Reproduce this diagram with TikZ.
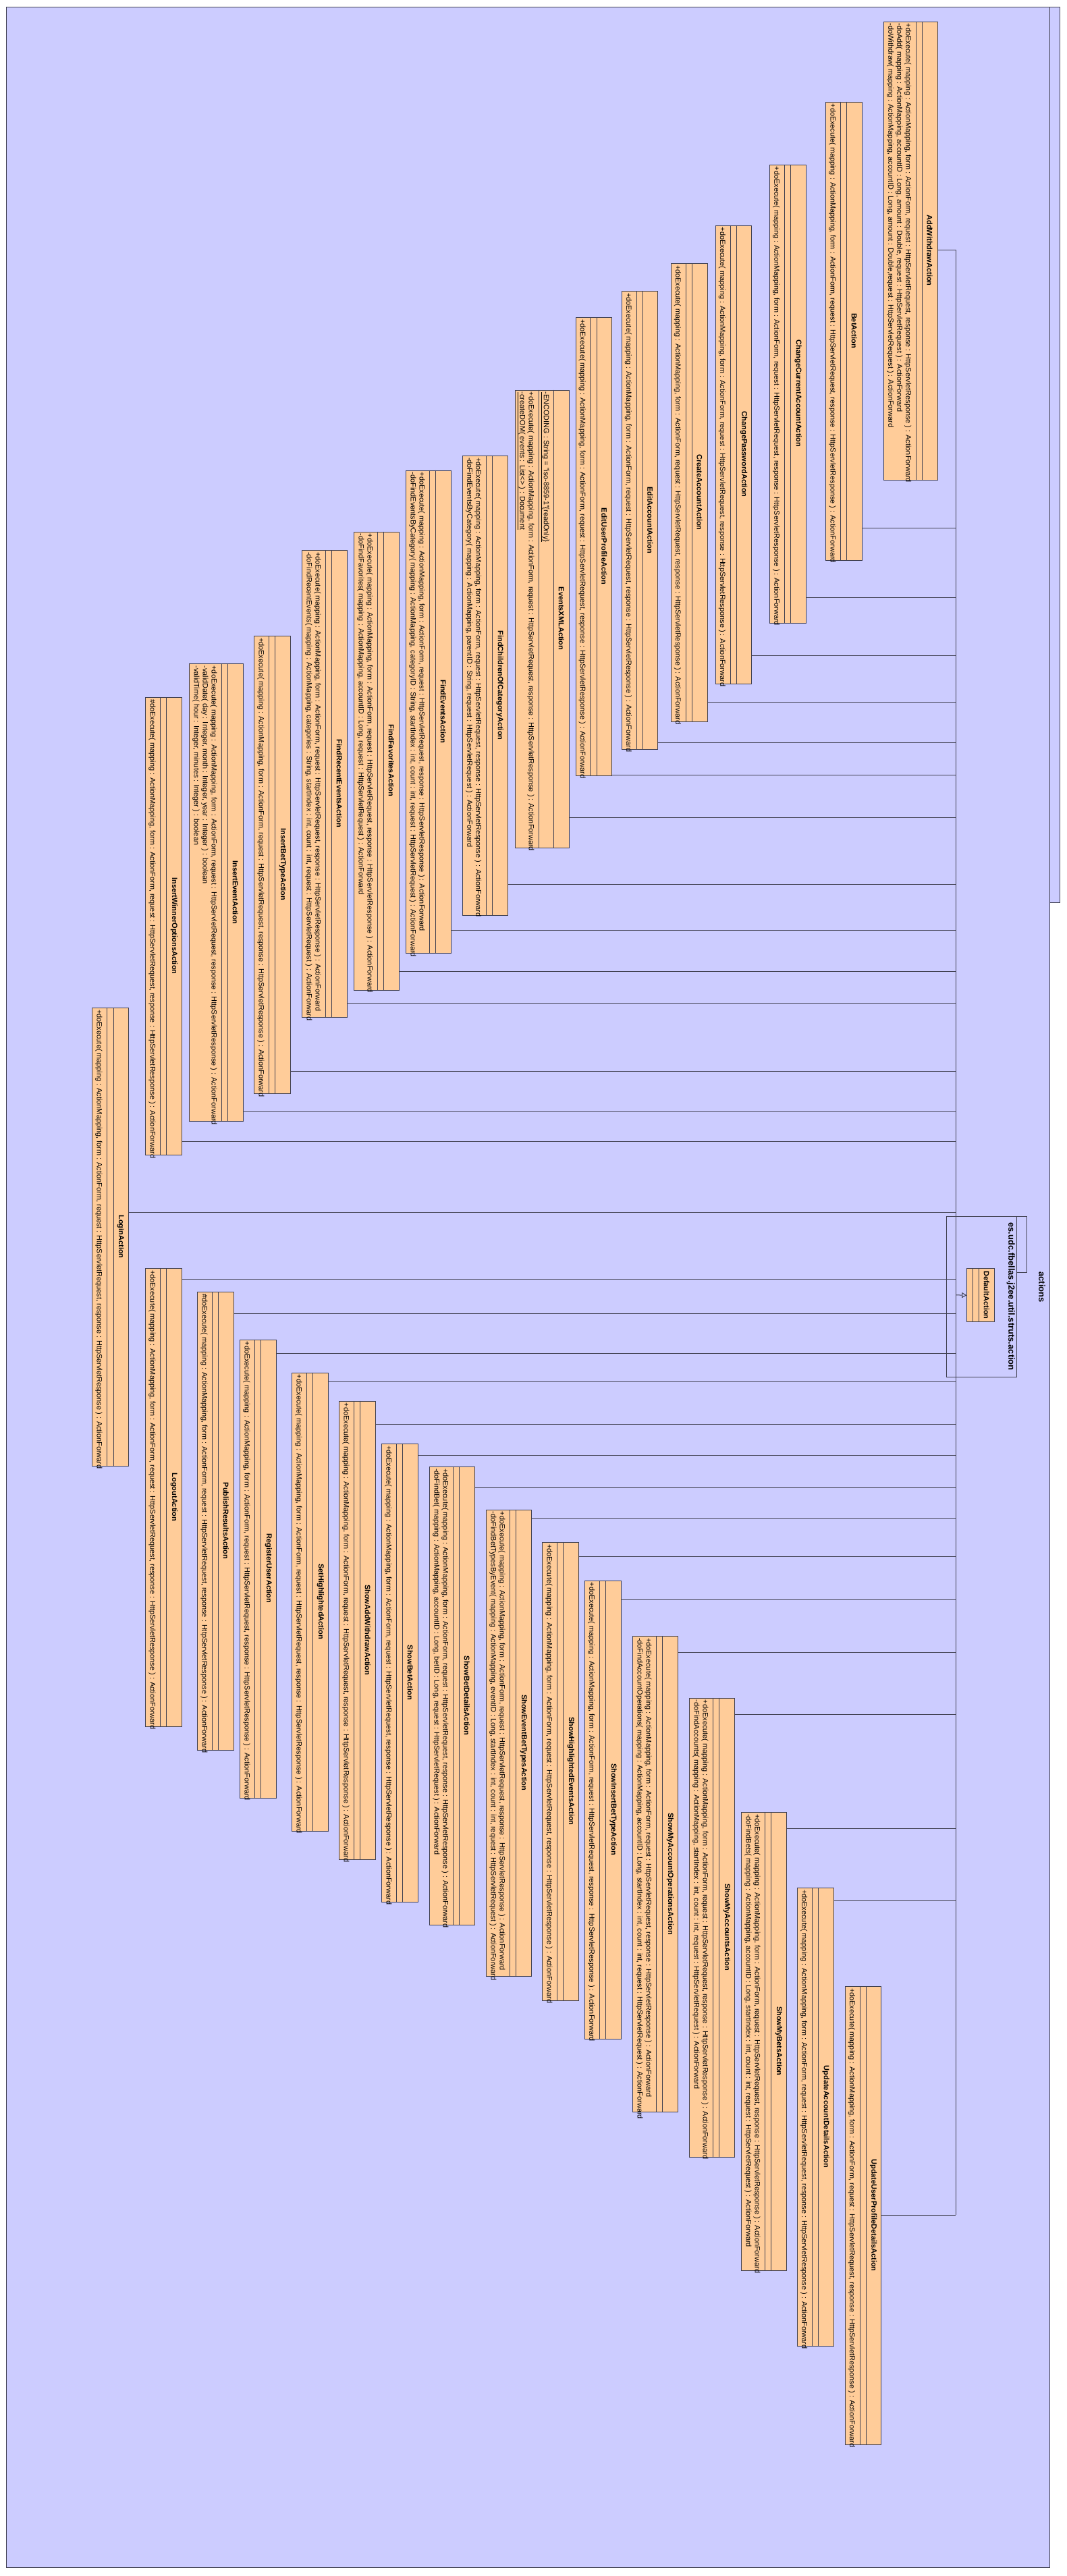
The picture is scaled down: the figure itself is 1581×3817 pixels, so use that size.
\documentclass[tikz,border=0pt]{standalone}
\usepackage{fontspec}
\setmainfont{Liberation Sans}
\usetikzlibrary{arrows.meta,calc}
\pgfdeclarelayer{pkg}
\pgfdeclarelayer{lines}
\pgfsetlayers{pkg,lines,main}
\definecolor{bgblue}{RGB}{204,204,255}
\definecolor{clsfill}{RGB}{255,204,153}
\definecolor{edgecol}{RGB}{64,64,80}
\tikzset{
  clsbox/.style={draw=edgecol, fill=clsfill, line width=1pt, inner sep=0pt, anchor=north west},
  sepline/.style={draw=edgecol, line width=1pt},
  ttl/.style={rotate=-90, inner sep=0pt, font=\fontsize{11}{13}\selectfont\bfseries},
  opline/.style={rotate=-90, inner sep=0pt, anchor=base west, font=\fontsize{10.9}{13}\selectfont},
  genl/.style={draw=edgecol, line width=1pt},
  pkgbox/.style={draw=edgecol, fill=bgblue, line width=1pt, inner sep=0pt, anchor=north west},
  pkglabel/.style={rotate=-90, inner sep=0pt, font=\fontsize{13}{15}\selectfont\bfseries},
}
% name, left, top, length, nattr, nmeth, title
\newcommand{\cls}[7]{%
  \pgfmathsetmacro\cMW{9.3+13*#6}%
  \pgfmathsetmacro\cAW{9.3+13*#5}%
  \pgfmathsetmacro\cXA{#2+\cMW}%
  \pgfmathsetmacro\cXB{\cXA+\cAW}%
  \pgfmathsetmacro\cXC{\cXB+22}%
  \pgfmathsetmacro\cW{\cXC-#2}%
  \pgfmathsetmacro\cYB{#3+#4}%
  \pgfmathsetmacro\cYM{#3+#4/2}%
  \pgfmathsetmacro\cXT{\cXB+11}%
  \node[clsbox, minimum width=\cW pt, minimum height=#4pt] (#1) at (#2,#3) {};
  \draw[sepline] (\cXA,#3) -- (\cXA,\cYB);
  \draw[sepline] (\cXB,#3) -- (\cXB,\cYB);
  \node[ttl] (#1-title) at (\cXT,\cYM) {#7};
  \coordinate (#1-m) at (\cXA,#3);
  \coordinate (#1-a) at (\cXB,#3);
}
\newcommand{\clsop}[3]{\node[opline] (#1-op#2) at ($(#1-m)+({-15-13*#2},3)$) {#3};}
\newcommand{\clsat}[3]{\node[opline] (#1-at#2) at ($(#1-a)+({-15-13*#2},3)$) {#3};}
\newcommand{\dox}{+doExecute( mapping : ActionMapping, form : ActionForm, request : HttpServletRequest, response : HttpServletResponse ) : ActionForward}
\newcommand{\doxp}{\#doExecute( mapping : ActionMapping, form : ActionForm, request : HttpServletRequest, response : HttpServletResponse ) : ActionForward}
\newcommand{\gen}[2]{\coordinate (#1-j) at (1416.3,#2); \draw[genl] (#1.east |- #1-j) -- (#1-j);}

\begin{document}
\begin{tikzpicture}[x=1pt,y=-1pt]
\useasboundingbox (0,0) rectangle (1581,3817);

% ---------- packages ----------
\begin{pgfonlayer}{pkg}
\node[pkgbox, minimum width=14.7pt, minimum height=1326.8pt] (actionsTab) at (1555.3,10.2) {};
\node[pkgbox, minimum width=1546pt, minimum height=3794.1pt] (actions) at (9.3,10.2) {};
\node[pkglabel] (actionsLabel) at (1544,1907) {actions};
\node[pkgbox, minimum width=15pt, minimum height=82.7pt] (strutsTab) at (1506.3,1802.3) {};
\node[pkgbox, minimum width=104pt, minimum height=237.7pt] (struts) at (1402.3,1802.3) {};
\node[pkglabel] (strutsLabel) at (1497.7,1921) {es.udc.fbellas.j2ee.util.struts.action};
\end{pgfonlayer}

% ---------- classes ----------
\cls{DefaultAction}{1432.3}{1879.3}{79}{0}{0}{DefaultAction}

\cls{AddWithdrawAction}{1309}{31.6}{679}{0}{3}{AddWithdrawAction}
\clsop{AddWithdrawAction}{0}{\dox}
\clsop{AddWithdrawAction}{1}{-doAdd( mapping : ActionMapping, accountID : Long, amount : Double, request : HttpServletRequest ) : ActionForward}
\clsop{AddWithdrawAction}{2}{-doWithdraw( mapping : ActionMapping, accountID : Long, amount : Double,request : HttpServletRequest ) : ActionForward}

\cls{BetAction}{1223.3}{150.5}{679}{0}{1}{BetAction}
\clsop{BetAction}{0}{\dox}

\cls{ChangeCurrentAccountAction}{1140}{243.6}{679}{0}{1}{ChangeCurrentAccountAction}
\clsop{ChangeCurrentAccountAction}{0}{\dox}

\cls{ChangePasswordAction}{1059.7}{333.7}{679}{0}{1}{ChangePasswordAction}
\clsop{ChangePasswordAction}{0}{\dox}

\cls{CreateAccountAction}{993.9}{389.8}{679}{0}{1}{CreateAccountAction}
\clsop{CreateAccountAction}{0}{\dox}

\cls{EditAccountAction}{920.8}{431}{679}{0}{1}{EditAccountAction}
\clsop{EditAccountAction}{0}{\dox}

\cls{EditUserProfileAction}{852.6}{470}{679}{0}{1}{EditUserProfileAction}
\clsop{EditUserProfileAction}{0}{\dox}

\cls{EventsXMLAction}{763.3}{577.6}{678}{1}{2}{EventsXMLAction}
\clsat{EventsXMLAction}{0}{\underline{-ENCODING : String = "iso-8859-1"\{readOnly\}}}
\clsop{EventsXMLAction}{0}{\dox}
\clsop{EventsXMLAction}{1}{\underline{-createDOM( events : List<> ) : Document}}

\cls{FindChildrenOfCategoryAction}{685}{675}{681}{0}{2}{FindChildrenOfCategoryAction}
\clsop{FindChildrenOfCategoryAction}{0}{\dox}
\clsop{FindChildrenOfCategoryAction}{1}{-doFindEventsByCategory( mapping : ActionMapping, parentID : String, request : HttpServletRequest ) : ActionForward}

\cls{FindEventsAction}{601.3}{696.6}{715}{0}{2}{FindEventsAction}
\clsop{FindEventsAction}{0}{\dox}
\clsop{FindEventsAction}{1}{-doFindEventsByCategory( mapping : ActionMapping, categoryID : String, startIndex : int, count : int, request : HttpServletRequest ) : ActionForward}

\cls{FindFavoritesAction}{524.3}{787.6}{679}{0}{2}{FindFavoritesAction}
\clsop{FindFavoritesAction}{0}{\dox}
\clsop{FindFavoritesAction}{1}{-doFindFavorites( mapping : ActionMapping, accountID : Long, request : HttpServletRequest ) : ActionForward}

\cls{FindRecentEventsAction}{447.3}{815}{692}{0}{2}{FindRecentEventsAction}
\clsop{FindRecentEventsAction}{0}{\dox}
\clsop{FindRecentEventsAction}{1}{-doFindRecentEvents( mapping : ActionMapping, categories : String, startIndex : int, count : int, request : HttpServletRequest ) : ActionForward}

\cls{InsertBetTypeAction}{376.3}{942}{678}{0}{1}{InsertBetTypeAction}
\clsop{InsertBetTypeAction}{0}{\dox}

\cls{InsertEventAction}{280.3}{983.4}{678}{0}{3}{InsertEventAction}
\clsop{InsertEventAction}{0}{\dox}
\clsop{InsertEventAction}{1}{-validDate( day : Integer, month : Integer, year : Integer ) : boolean}
\clsop{InsertEventAction}{2}{-validTime( hour : Integer, minutes : Integer ) : boolean}

\cls{InsertWinnerOptionsAction}{215.3}{1033}{678}{0}{1}{InsertWinnerOptionsAction}
\clsop{InsertWinnerOptionsAction}{0}{\doxp}

\cls{LoginAction}{136.4}{1493}{679}{0}{1}{LoginAction}
\clsop{LoginAction}{0}{\dox}

\cls{LogoutAction}{215.3}{1879}{679}{0}{1}{LogoutAction}
\clsop{LogoutAction}{0}{\dox}

\cls{PublishResultsAction}{292.3}{1914}{679}{0}{1}{PublishResultsAction}
\clsop{PublishResultsAction}{0}{\doxp}

\cls{RegisterUserAction}{355.3}{1984.5}{679}{0}{1}{RegisterUserAction}
\clsop{RegisterUserAction}{0}{\dox}

\cls{SetHighlightedAction}{432.3}{2033.6}{679}{0}{1}{SetHighlightedAction}
\clsop{SetHighlightedAction}{0}{\dox}

\cls{ShowAddWithdrawAction}{502.3}{2075.7}{679}{0}{1}{ShowAddWithdrawAction}
\clsop{ShowAddWithdrawAction}{0}{\dox}

\cls{ShowBetAction}{565.3}{2138.8}{679}{0}{1}{ShowBetAction}
\clsop{ShowBetAction}{0}{\dox}

\cls{ShowBetDetailsAction}{636.3}{2173}{679}{0}{2}{ShowBetDetailsAction}
\clsop{ShowBetDetailsAction}{0}{\dox}
\clsop{ShowBetDetailsAction}{1}{-doFindBet( mapping : ActionMapping, accountID : Long, betID : Long, request : HttpServletRequest ) : ActionForward}

\cls{ShowEventBetTypesAction}{720.3}{2236.6}{691}{0}{2}{ShowEventBetTypesAction}
\clsop{ShowEventBetTypesAction}{0}{\dox}
\clsop{ShowEventBetTypesAction}{1}{-doFindBetTypesByEvent( mapping : ActionMapping, eventID : Long, startIndex : int, count : int, request : HttpServletRequest ) : ActionForward}

\cls{ShowHighlightedEventsAction}{803.3}{2285}{679}{0}{1}{ShowHighlightedEventsAction}
\clsop{ShowHighlightedEventsAction}{0}{\dox}

\cls{ShowInsertBetTypeAction}{866}{2341.6}{679}{0}{1}{ShowInsertBetTypeAction}
\clsop{ShowInsertBetTypeAction}{0}{\dox}

\cls{ShowMyAccountOperationsAction}{937.3}{2424}{705}{0}{2}{ShowMyAccountOperationsAction}
\clsop{ShowMyAccountOperationsAction}{0}{\dox}
\clsop{ShowMyAccountOperationsAction}{1}{-doFindAccountOperations( mapping : ActionMapping, accountID : Long, startIndex : int, count : int, request : HttpServletRequest ) : ActionForward}

\cls{ShowMyAccountsAction}{1021.3}{2515.7}{680}{0}{2}{ShowMyAccountsAction}
\clsop{ShowMyAccountsAction}{0}{\dox}
\clsop{ShowMyAccountsAction}{1}{-doFindAccounts( mapping : ActionMapping, startIndex : int, count : int, request : HttpServletRequest ) : ActionForward}

\cls{ShowMyBetsAction}{1098.3}{2684.8}{679}{0}{2}{ShowMyBetsAction}
\clsop{ShowMyBetsAction}{0}{\dox}
\clsop{ShowMyBetsAction}{1}{-doFindBets( mapping : ActionMapping, accountID : Long, startIndex : int, count : int, request : HttpServletRequest ) : ActionForward}

\cls{UpdateAccountDetailsAction}{1181}{2797}{679}{0}{1}{UpdateAccountDetailsAction}
\clsop{UpdateAccountDetailsAction}{0}{\dox}

\cls{UpdateUserProfileDetailsAction}{1251.7}{2943}{679}{0}{1}{UpdateUserProfileDetailsAction}
\clsop{UpdateUserProfileDetailsAction}{0}{\dox}

% ---------- generalizations ----------
\begin{pgfonlayer}{lines}
\gen{AddWithdrawAction}{370}
\gen{BetAction}{782}
\gen{ChangeCurrentAccountAction}{885}
\gen{ChangePasswordAction}{971}
\gen{CreateAccountAction}{1040}
\gen{EditAccountAction}{1100}
\gen{EditUserProfileAction}{1148}
\gen{EventsXMLAction}{1211}
\gen{FindChildrenOfCategoryAction}{1310}
\gen{FindEventsAction}{1378}
\gen{FindFavoritesAction}{1439}
\gen{FindRecentEventsAction}{1486}
\gen{InsertBetTypeAction}{1587}
\gen{InsertEventAction}{1646}
\gen{InsertWinnerOptionsAction}{1691}
\gen{LoginAction}{1796}
\gen{LogoutAction}{1895}
\gen{PublishResultsAction}{1946}
\gen{RegisterUserAction}{2005.5}
\gen{SetHighlightedAction}{2047.6}
\gen{ShowAddWithdrawAction}{2110.8}
\gen{ShowBetAction}{2156.4}
\gen{ShowBetDetailsAction}{2204}
\gen{ShowEventBetTypesAction}{2250.8}
\gen{ShowHighlightedEventsAction}{2306.4}
\gen{ShowInsertBetTypeAction}{2370}
\gen{ShowMyAccountOperationsAction}{2448.5}
\gen{ShowMyAccountsAction}{2540}
\gen{ShowMyBetsAction}{2709.6}
\gen{UpdateAccountDetailsAction}{2816.4}
\gen{UpdateUserProfileDetailsAction}{3282}
\draw[genl] (AddWithdrawAction-j) -- (UpdateUserProfileDetailsAction-j);
\coordinate (DefaultAction-j) at (1416.3,1918.8);
\draw[genl, -{Triangle[open, length=7pt, width=8pt]}] (DefaultAction-j) -- (DefaultAction.west);
\end{pgfonlayer}
\end{tikzpicture}
\end{document}
